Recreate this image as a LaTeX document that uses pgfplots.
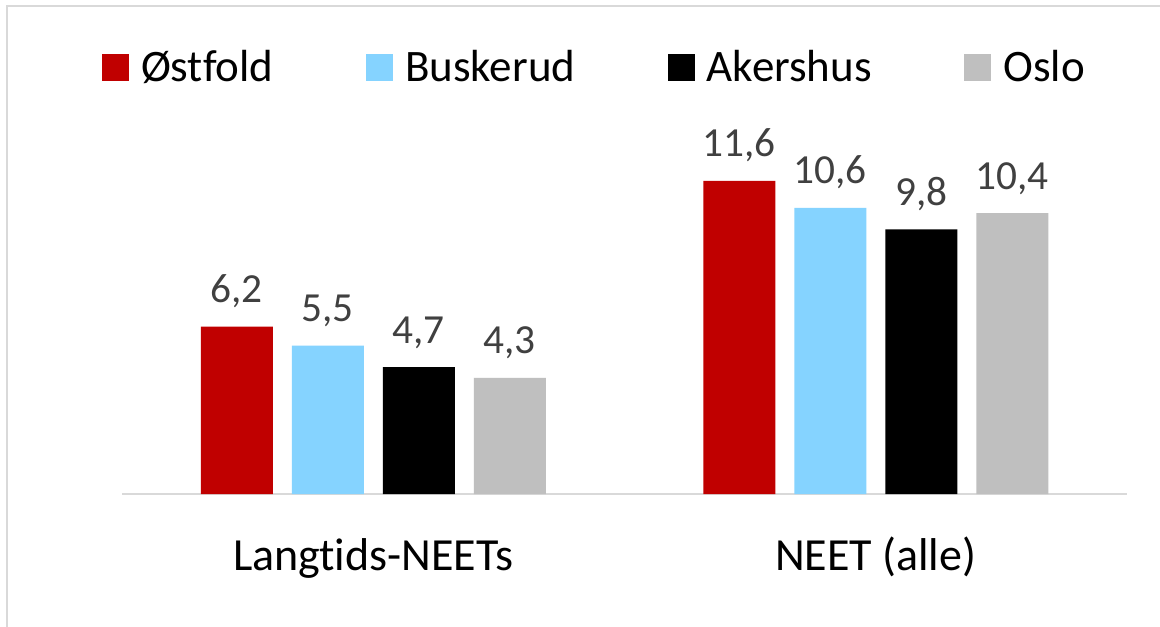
\documentclass[border=0pt]{standalone}
\usepackage{pgfplots}
\pgfplotsset{compat=1.18}
\usepackage{fontspec}
\setmainfont{Carlito}[Ligatures=NoCommon]
\definecolor{cRed}{HTML}{C00000}
\definecolor{cBlue}{HTML}{85D3FF}
\definecolor{cGray}{HTML}{BFBFBF}
\definecolor{cLab}{HTML}{404040}
\definecolor{cLine}{HTML}{D9D9D9}
\begin{document}
\begin{tikzpicture}
\useasboundingbox (0,0) rectangle (696pt,375.6pt);
\clip (0,0) rectangle (696pt,375.6pt);
\fill[white] (0,0) rectangle (696pt,375.6pt);
\draw[cLine, line width=1pt] (4.2pt,-20pt) rectangle (720pt,372pt);
\begin{axis}[
  at={(73.2pt,79.2pt)}, anchor=south west,
  scale only axis, width=603pt, height=226.8pt,
  xmin=-0.5, xmax=1.5, ymin=0, ymax=14,
  axis x line*=bottom, axis y line=none,
  x axis line style={-, draw=cLine, line width=1.2pt},
  xtick={0,1}, xticklabels={Langtids-NEETs, NEET (alle)},
  major tick length=0pt,
  xticklabel style={anchor=base, yshift=-45.6pt, font=\fontsize{27.6}{33}\selectfont, text=black},
  ybar=11.4pt, bar width=43.2pt,
  /pgf/number format/assume math mode=true,
  nodes near coords={\pgfmathprintnumber[fixed, fixed zerofill, precision=1, use comma]{\pgfplotspointmeta}},
  nodes near coords style={anchor=base, yshift=14.4pt, font=\fontsize{24.8}{29}\selectfont, text=cLab},
  legend columns=4,
  legend image code/.code={\fill[#1] (0pt,-8.1pt) rectangle (16.2pt,8.1pt);},
  legend style={at={(-0.0199,1.1296)}, anchor=west, draw=none, fill=none,
    inner sep=0pt, outer sep=0pt,
    nodes={inner sep=0pt, font=\fontsize{27}{32}\selectfont, text=black},
    column sep=7.2pt,
    /tikz/every even column/.append style={column sep=55.6pt}},
]
\addplot[fill=cRed, draw=none] coordinates {(0,6.2) (1,11.6)};
\addplot[fill=cBlue, draw=none] coordinates {(0,5.5) (1,10.6)};
\addplot[fill=black, draw=none] coordinates {(0,4.7) (1,9.8)};
\addplot[fill=cGray, draw=none] coordinates {(0,4.3) (1,10.4)};
\legend{Østfold, Buskerud, Akershus, Oslo}
\end{axis}
\end{tikzpicture}
\end{document}
